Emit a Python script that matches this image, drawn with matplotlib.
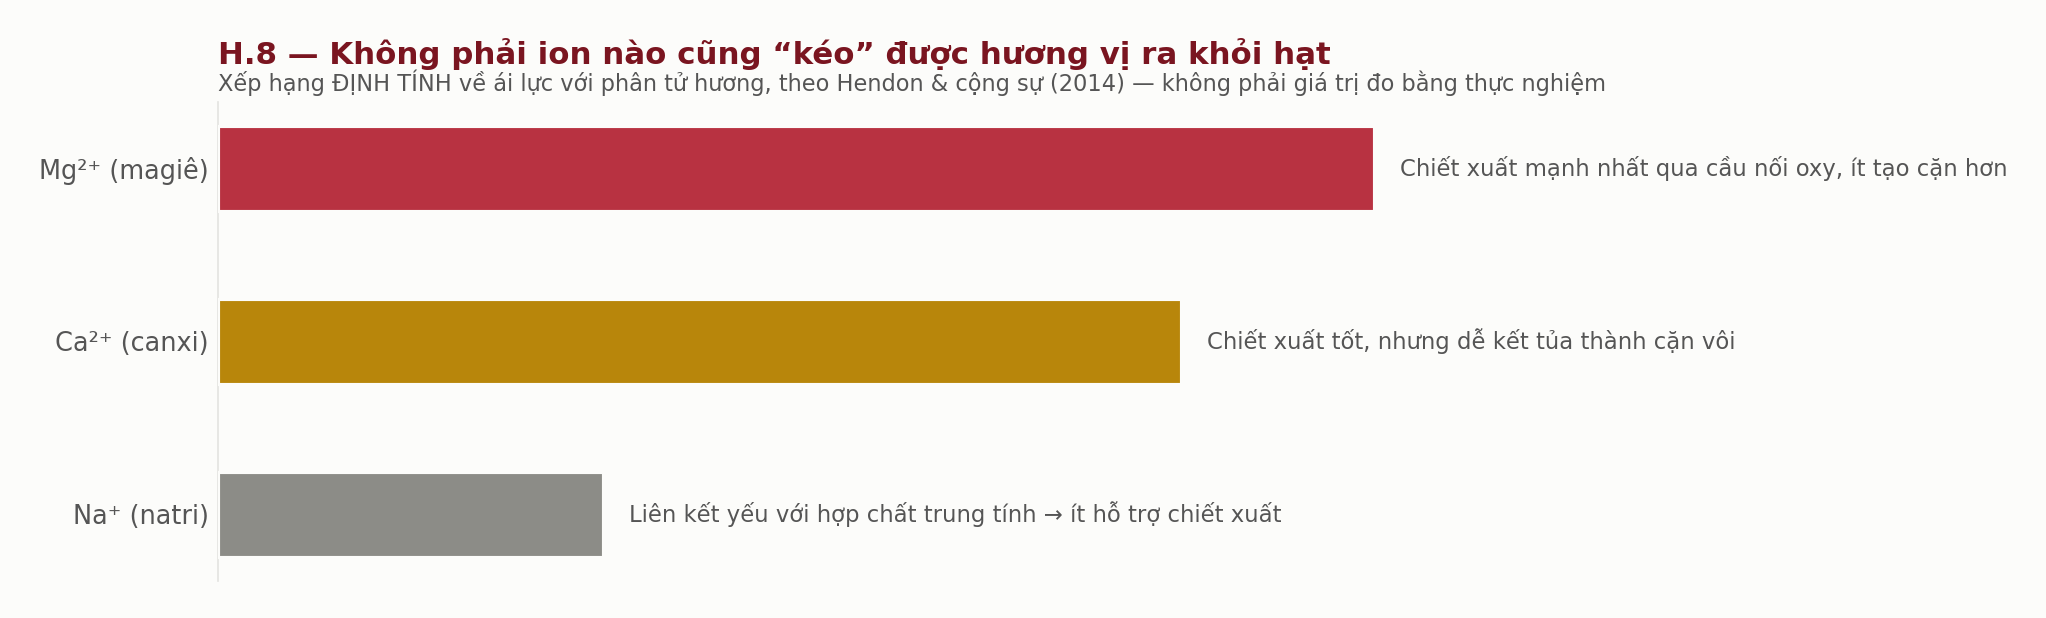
import matplotlib
matplotlib.use("Agg")
import matplotlib.pyplot as plt

# --- data (qualitative rank)
ions = ["Mg²⁺ (magiê)", "Ca²⁺ (canxi)", "Na⁺ (natri)"]
strength = [3.0, 2.5, 1.0]
notes = [
    "Chiết xuất mạnh nhất qua cầu nối oxy, ít tạo cặn hơn",
    "Chiết xuất tốt, nhưng dễ kết tủa thành cặn vôi",
    "Liên kết yếu với hợp chất trung tính → ít hỗ trợ chiết xuất",
]
bar_colors = ["#b83241", "#b8860b", "#8c8c87"]

title = "H.8 — Không phải ion nào cũng “kéo” được hương vị ra khỏi hạt"
subtitle = ("Xếp hạng ĐỊNH TÍNH về ái lực với phân tử hương, theo Hendon & cộng sự (2014)"
            " — không phải giá trị đo bằng thực nghiệm")

BG = "#fcfcfa"
TEXT = "#555555"

plt.rcParams["font.family"] = ["DejaVu Sans"]

fig = plt.figure(figsize=(13.64, 4.12), dpi=150, facecolor=BG)
ax = fig.add_axes([0.1065, 0.0603, 0.8455, 0.775])
ax.set_facecolor(BG)

ypos = list(range(len(ions)))
bars = ax.barh(ypos, strength, height=0.49, color=bar_colors,
               edgecolor=BG, linewidth=1.5, zorder=3)

for y, v, note in zip(ypos, strength, notes):
    ax.annotate(note, xy=(v, y), xytext=(12.5, 0), textcoords="offset points",
                va="center", ha="left", fontsize=10.9, color=TEXT,
                annotation_clip=False)

ax.set_xlim(0, 4.49)
ax.set_ylim(2.385, -0.385)
ax.set_yticks(ypos)
ax.set_yticklabels(ions, fontsize=12.3, color=TEXT)
ax.tick_params(axis="y", length=0, pad=4.5)
ax.set_xticks([])

for side in ["top", "right", "bottom"]:
    ax.spines[side].set_visible(False)
ax.spines["left"].set_color("#e3e3e0")
ax.spines["left"].set_linewidth(0.8)

fig.text(0.1065, 0.896, title, fontsize=14.8, fontweight="bold",
         color="#7a1520", ha="left", va="baseline")
fig.text(0.1065, 0.852, subtitle, fontsize=10.8, color=TEXT,
         ha="left", va="baseline")

fig.savefig("out.png", dpi=150, facecolor=BG)
